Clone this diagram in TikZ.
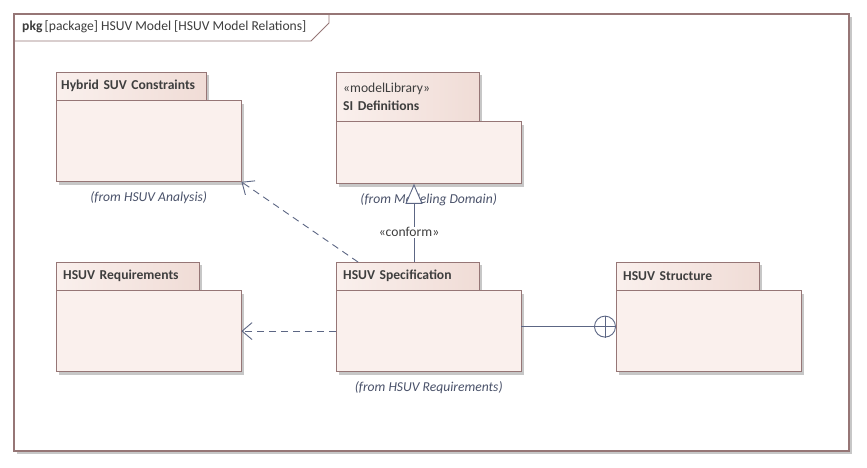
\documentclass[tikz,border=0pt]{standalone}
\usepackage{fontspec}
\setmainfont{Carlito}
\usetikzlibrary{arrows.meta,shadows}
\definecolor{pkgline}{RGB}{150,118,118}
\definecolor{pkgfill}{RGB}{250,240,237}
\definecolor{pkgtabfill}{RGB}{240,220,214}
\definecolor{conn}{RGB}{92,102,132}
\definecolor{txt}{RGB}{62,62,62}
\newcommand{\dfont}{\fontsize{13.6}{18}\selectfont}
\tikzset{
  shade3/.style={drop shadow={shadow xshift=3pt,shadow yshift=-3pt,fill=black!22,opacity=1}},
  pkgtab/.style={draw=pkgline,left color=pkgfill,right color=pkgtabfill,shade3,minimum width=143pt,
    minimum height=28pt,text width=129pt,inner xsep=7pt,align=left,font=\dfont\bfseries,text=txt},
  pkgbody/.style={draw=pkgline,fill=pkgfill,shade3,minimum width=185pt,minimum height=81pt,
    inner sep=0pt,anchor=north west},
  fromlbl/.style={font=\dfont\itshape,text=conn!80!black,anchor=north},
  dep/.style={draw=conn,line width=0.9pt,dash pattern=on 7pt off 5pt,-{Straight Barb[length=10pt,width=17pt]}}
}
\begin{document}
\begin{tikzpicture}[x=1pt,y=-1pt]
  \useasboundingbox (0,0) rectangle (867,467);
  % diagram frame
  \draw[draw=pkgline,line width=1.2pt,fill=white,shade3] (14,14) rectangle (849,451);
  \draw[draw=pkgline,line width=0.8pt] (14,41) -- (311,41) -- (329,23) -- (329,14);
  \node[anchor=west,text=txt,font=\dfont,inner sep=0pt] (title) at (22,27)
    {\textbf{pkg}\,[package] HSUV Model [HSUV Model Relations]};
  % packages
  \node[pkgtab,anchor=north west,minimum width=150pt,text width=140pt,inner xsep=5pt] (constab) at (56,72)
    {\mbox{Hybrid SUV Constraints}};
  \node[pkgbody] (consbody) at (constab.south west) {};
  \node[fromlbl] (consfrom) at ([yshift=-6pt]consbody.south) {(from HSUV Analysis)};
  \node[pkgtab,anchor=north west,minimum height=49pt] (sitab) at (336,72)
    {\textmd{«modelLibrary»}\\SI Definitions};
  \node[pkgbody,minimum height=62pt] (sibody) at (sitab.south west) {};
  \node[fromlbl] (sifrom) at ([yshift=-6pt]sibody.south) {(from Modeling Domain)};
  \node[pkgtab,anchor=north west] (reqtab) at (56,262) {HSUV Requirements};
  \node[pkgbody] (reqbody) at (reqtab.south west) {};
  \node[pkgtab,anchor=north west] (spectab) at (336,262) {HSUV Specification};
  \node[pkgbody] (specbody) at (spectab.south west) {};
  \node[fromlbl] (specfrom) at ([yshift=-6pt]specbody.south) {(from HSUV Requirements)};
  \node[pkgtab,anchor=north west] (strtab) at (616,262) {HSUV Structure};
  \node[pkgbody] (strbody) at (strtab.south west) {};
  % relations
  \draw[dep] ([xshift=22pt]spectab.north west) -- (consbody.south east);
  \draw[dep] (specbody.west) -- (reqbody.east);
  \draw[conn,line width=0.9pt,-{Triangle[open,length=20pt,width=17pt,fill=white]}]
    ([xshift=78pt]spectab.north west) -- ([xshift=78pt]sibody.south west)
    node[pos=0.38,fill=white,inner sep=1pt,text=txt,font=\dfont,xshift=-5pt] (conform) {«conform»};
  \node[draw=conn,line width=0.9pt,circle,fill=white,minimum size=21pt,inner sep=0pt] (own)
    at ([xshift=-11pt,yshift=4.5pt]strbody.west) {};
  \draw[conn,line width=0.9pt] (own.north) -- (own.south) (own.west) -- (own.east);
  \draw[conn,line width=0.9pt] (specbody.east |- own.west) -- (own.west);
\end{tikzpicture}
\end{document}
